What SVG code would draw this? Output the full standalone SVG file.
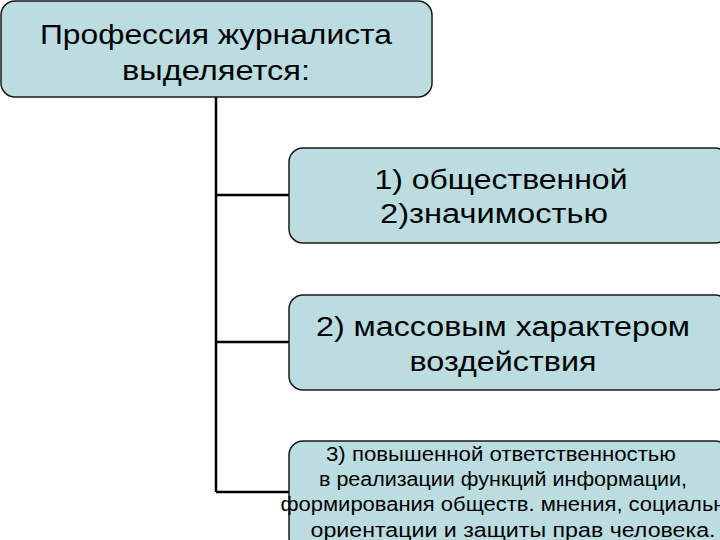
<svg xmlns="http://www.w3.org/2000/svg" width="720" height="540" viewBox="0 0 720 540">
<style>
.box{fill:#bcdde0;stroke:#1a1a1a;stroke-width:1.5}
.t{font-family:"Liberation Sans",Arial,sans-serif;fill:#000;text-anchor:middle}
.c{fill:none;stroke:#000;stroke-width:2.5}
</style>
<rect width="720" height="540" fill="#fff"/>
<g id="connectors">
<path class="c" d="M216 97 V492 M216 195 H290 M216 342 H290 M216 492 H290"/>
</g>
<g id="n0">
<rect class="box" x="1" y="1" width="431" height="96" rx="14"/>
<text class="t" x="216" y="44" font-size="27" textLength="352" lengthAdjust="spacingAndGlyphs">Профессия журналиста</text>
<text class="t" x="216" y="80" font-size="27" textLength="188" lengthAdjust="spacingAndGlyphs">выделяется:</text>
</g>
<g id="n1">
<rect class="box" x="289" y="148" width="440" height="95" rx="14"/>
<text class="t" x="501" y="189" font-size="27" textLength="253" lengthAdjust="spacingAndGlyphs">1) общественной</text>
<text class="t" x="494" y="223" font-size="27" textLength="228" lengthAdjust="spacingAndGlyphs">2)значимостью</text>
</g>
<g id="n2">
<rect class="box" x="289" y="295" width="440" height="95" rx="14"/>
<text class="t" x="503" y="336" font-size="27" textLength="374" lengthAdjust="spacingAndGlyphs">2) массовым характером</text>
<text class="t" x="503" y="371" font-size="27" textLength="187" lengthAdjust="spacingAndGlyphs">воздействия</text>
</g>
<g id="n3">
<rect class="box" x="289" y="441" width="440" height="110" rx="14"/>
<text class="t" x="501" y="461" font-size="20" textLength="350" lengthAdjust="spacingAndGlyphs">3) повышенной ответственностью</text>
<text class="t" x="503" y="486" font-size="20" textLength="368" lengthAdjust="spacingAndGlyphs">в реализации функций информации,</text>
<text class="t" x="503" y="511" font-size="20" textLength="445" lengthAdjust="spacingAndGlyphs">формирования обществ. мнения, социальн</text>
<text class="t" x="513" y="537" font-size="20" textLength="405" lengthAdjust="spacingAndGlyphs">ориентации и защиты прав человека.</text>
</g>
</svg>
